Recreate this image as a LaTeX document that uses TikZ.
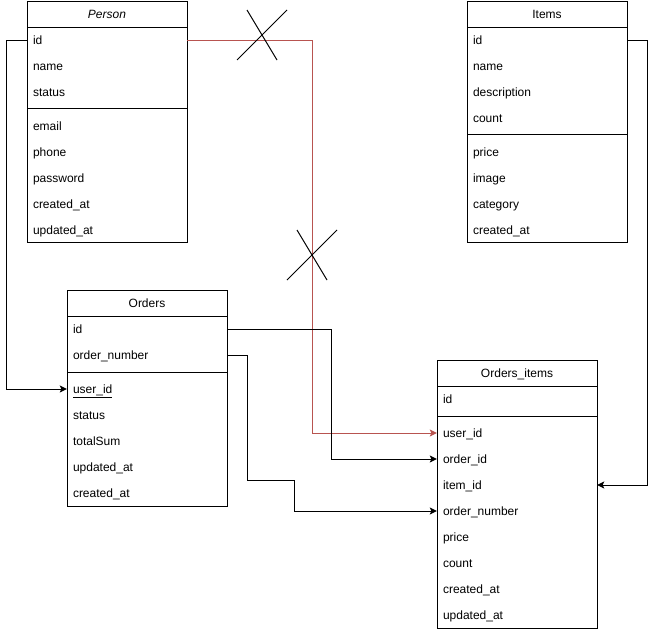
\documentclass[tikz,border=0pt]{standalone}
\usepackage{fontspec}
\setmainfont{Liberation Sans}
\usetikzlibrary{arrows.meta}
\definecolor{fkred}{HTML}{B85450}
\begin{document}
\begin{tikzpicture}[x=1pt,y=-1pt,
  every node/.style={font=\fontsize{12}{14}\selectfont},
  table/.style={draw=black,line width=1pt,minimum width=160pt,inner sep=0pt},
  title/.style={minimum width=160pt,minimum height=26pt,inner sep=0pt,
    text height=10pt,text depth=2pt},
  field/.style={minimum width=160pt,minimum height=26pt,inner xsep=6pt,inner ysep=0pt,
    text width=148pt,align=left,text height=10pt,text depth=2pt},
  rule/.style={line width=1pt},
  conn/.style={line width=1pt,-{Stealth[length=7pt,width=7pt,inset=1.5pt]}},
  fk/.style={conn,draw=fkred,-{Stealth[length=7pt,width=7pt,inset=1.5pt,fill=fkred]}},
  cross/.style={line width=1pt}]
\useasboundingbox (0,0) rectangle (656,632);

% ---------- Person ----------
\node[table,minimum height=241pt,anchor=north west] (person) at (27,1) {};
\node[title,font=\fontsize{12}{14}\selectfont\itshape] (person-t) at (107,14) {Person};
\draw[rule] (27,27) -- (187,27);
\node[field] (p-id) at (107,40) {id};
\node[field] (p-name) at (107,66) {name};
\node[field] (p-status) at (107,92) {status};
\draw[rule] (27,108) -- (187,108);
\node[field] (p-email) at (107,126) {email};
\node[field] (p-phone) at (107,152) {phone};
\node[field] (p-pass) at (107,178) {password};
\node[field] (p-cr) at (107,204) {created\_at};
\node[field] (p-up) at (107,230) {updated\_at};

% ---------- Items ----------
\node[table,minimum height=241pt,anchor=north west] (items) at (467,1) {};
\node[title] (items-t) at (547,14) {Items};
\draw[rule] (467,27) -- (627,27);
\node[field] (i-id) at (547,40) {id};
\node[field] (i-name) at (547,66) {name};
\node[field] (i-desc) at (547,92) {description};
\node[field] (i-count) at (547,118) {count};
\draw[rule] (467,134) -- (627,134);
\node[field] (i-price) at (547,152) {price};
\node[field] (i-image) at (547,178) {image};
\node[field] (i-cat) at (547,204) {category};
\node[field] (i-cr) at (547,230) {created\_at};

% ---------- Orders ----------
\node[table,minimum height=216pt,anchor=north west] (orders) at (67,290) {};
\node[title] (orders-t) at (147,303) {Orders};
\draw[rule] (67,316) -- (227,316);
\node[field] (o-id) at (147,329) {id};
\node[field] (o-num) at (147,355) {order\_number};
\draw[rule] (67,372) -- (227,372);
\node[field] (o-user) at (147,389) {\underline{user\_id}};
\node[field] (o-status) at (147,415) {status};
\node[field] (o-sum) at (147,441) {totalSum};
\node[field] (o-up) at (147,467) {updated\_at};
\node[field] (o-cr) at (147,493) {created\_at};

% ---------- Orders_items ----------
\node[table,minimum height=268pt,anchor=north west] (oi) at (437,360) {};
\node[title] (oi-t) at (517,373) {Orders\_items};
\draw[rule] (437,386) -- (597,386);
\node[field] (oi-id) at (517,399) {id};
\draw[rule] (437,416) -- (597,416);
\node[field] (oi-user) at (517,433) {user\_id};
\node[field] (oi-order) at (517,459) {order\_id};
\node[field] (oi-item) at (517,485) {item\_id};
\node[field] (oi-num) at (517,511) {order\_number};
\node[field] (oi-price) at (517,537) {price};
\node[field] (oi-count) at (517,563) {count};
\node[field] (oi-cr) at (517,589) {created\_at};
\node[field] (oi-up) at (517,615) {updated\_at};

% ---------- relations ----------
\coordinate (redlane) at (312,0);
\coordinate (orderlane) at (331,0);

\draw[conn] (p-id.west) -- ++(-20,0) |- (o-user.west);
\draw[fk] (p-id.east) -| (redlane |- oi-user.west) -- (oi-user.west);
\draw[conn] (o-id.east) -| (orderlane |- oi-order.west) -- (oi-order.west);
\draw[conn] (o-num.east) -- ++(20,0) -- ++(0,125) -- ++(47,0) |- (oi-num.west);
\draw[conn] (i-id.east) -- ++(20,0) |- (oi-item.east);

% crossed-out marks on the user link
\draw[cross] (237,60) -- (287,10);
\draw[cross] (247,10) -- (277,60);
\draw[cross] (287,280) -- (337,230);
\draw[cross] (297,230) -- (327,280);
\end{tikzpicture}
\end{document}
